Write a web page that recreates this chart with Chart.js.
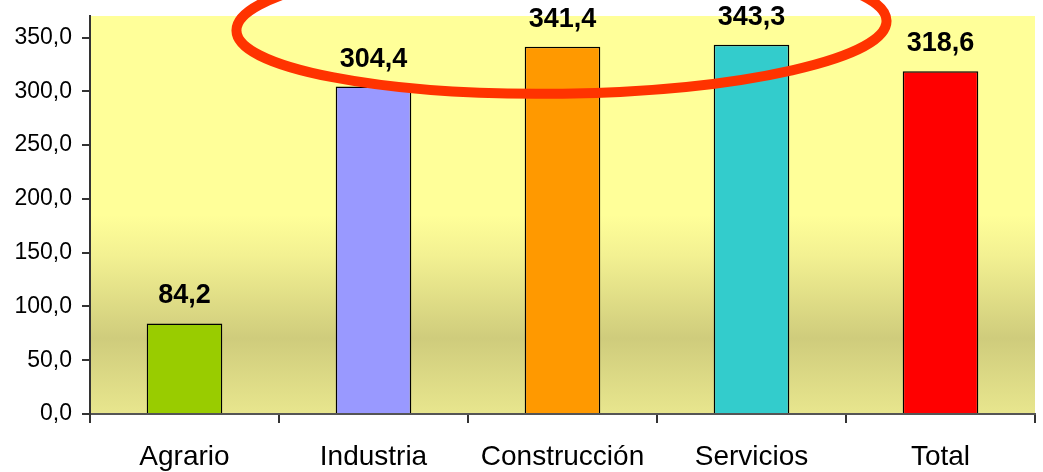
<!DOCTYPE html>
<html>
<head>
<meta charset="utf-8">
<script src="https://cdn.jsdelivr.net/npm/chart.js@4.4.0/dist/chart.umd.min.js"></script>
<style>
html,body{margin:0;padding:0;background:#fff;}
#wrap{width:1043px;height:472px;}
</style>
</head>
<body>
<div id="wrap"><canvas id="c" width="1043" height="472"></canvas></div>
<script>
const categories = ['Agrario', 'Industria', 'Construcción', 'Servicios', 'Total'];
const values = [84.2, 304.4, 341.4, 343.3, 318.6];
const barColors = ['#99CC00', '#9999FF', '#FF9900', '#33CCCC', '#FF0000'];
const yTicks = [0, 50, 100, 150, 200, 250, 300, 350];

const FONT = '"Liberation Sans", Arial, sans-serif';
const fmt = v => Number(v).toFixed(1).replace('.', ',');

const bgPlugin = {
  id: 'bg',
  beforeDraw(chart) {
    const {ctx, chartArea: a} = chart;
    const g = ctx.createLinearGradient(0, a.top, 0, a.bottom);
    g.addColorStop(0, '#FFFF99');
    g.addColorStop(0.5, '#FFFF99');
    g.addColorStop(0.6, '#F3F192');
    g.addColorStop(0.81, '#CFCC7C');
    g.addColorStop(1, '#E8E68E');
    ctx.save();
    ctx.fillStyle = g;
    ctx.fillRect(a.left, a.top, a.right - a.left, a.bottom - a.top);
    ctx.restore();
  }
};

const labelPlugin = {
  id: 'vals',
  afterDatasetsDraw(chart) {
    const {ctx} = chart;
    const meta = chart.getDatasetMeta(0);
    ctx.save();
    ctx.font = 'bold 27px ' + FONT;
    ctx.fillStyle = '#000';
    ctx.textAlign = 'center';
    ctx.textBaseline = 'alphabetic';
    meta.data.forEach((bar, i) => {
      ctx.fillText(fmt(values[i]), bar.x, bar.y - 20);
    });
    ctx.restore();
  }
};

const ellipsePlugin = {
  id: 'ring',
  afterDraw(chart) {
    const {ctx} = chart;
    const x = chart.scales.x, y = chart.scales.y;
    const cw = x.getPixelForValue(1) - x.getPixelForValue(0);
    const cx = x.getPixelForValue(2) - 1;
    const cy = y.getPixelForValue(361);
    ctx.save();
    ctx.strokeStyle = '#FF3300';
    ctx.lineWidth = 10;
    ctx.beginPath();
    ctx.ellipse(cx, cy, cw * 1.72, 68, -0.015, 0, Math.PI * 2);
    ctx.stroke();
    ctx.restore();
  }
};

new Chart(document.getElementById('c'), {
  type: 'bar',
  data: {
    labels: categories,
    datasets: [{
      data: values,
      backgroundColor: barColors,
      borderColor: '#000',
      borderWidth: 1.5,
      borderSkipped: 'bottom',
      categoryPercentage: 1,
      barPercentage: 0.4
    }]
  },
  options: {
    responsive: false,
    animation: false,
    layout: {padding: {top: 16, right: 8, left: 0, bottom: 0}},
    plugins: {legend: {display: false}, tooltip: {enabled: false}},
    scales: {
      x: {
        afterFit(s) { s.height = 58; s.paddingLeft = 0; s.paddingRight = 0; },
        grid: {display: true, drawOnChartArea: false, offset: true, tickLength: 9, color: '#333', lineWidth: 2},
        border: {display: true, color: '#555', width: 2},
        ticks: {color: '#000', font: {family: FONT, size: 28}, padding: 17}
      },
      y: {
        min: 0, max: 370,
        afterFit(s) { s.width = 90; s.paddingTop = 0; s.paddingBottom = 0; },
        afterBuildTicks(s) { s.ticks = yTicks.map(v => ({value: v})); },
        grid: {display: true, drawOnChartArea: false, tickLength: 8, color: '#333', lineWidth: 2},
        border: {display: true, color: '#333', width: 2},
        ticks: {color: '#000', font: {family: FONT, size: 23}, padding: 10, callback: v => fmt(v)}
      }
    }
  },
  plugins: [bgPlugin, labelPlugin, ellipsePlugin]
});
</script>
</body>
</html>
